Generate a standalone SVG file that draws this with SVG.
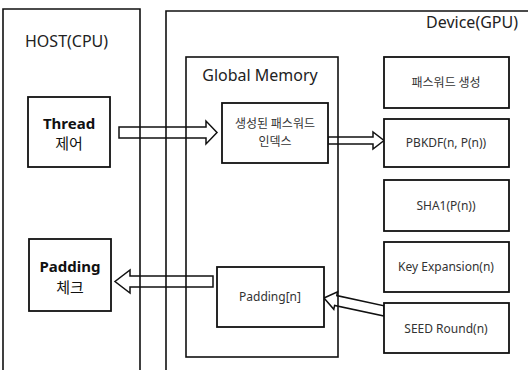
<svg xmlns="http://www.w3.org/2000/svg" width="528" height="370" viewBox="0 0 528 370">
  <style>
    .frame { fill: none; stroke: #111; stroke-width: 1.6; }
    .box { fill: #fff; stroke: #111; stroke-width: 1.8; }
    .arrow { fill: none; stroke: #111; stroke-width: 1.5; stroke-linejoin: miter; }
    .title { font-family: "Noto Sans", "Open Sans", sans-serif; font-size: 16px; fill: #222; }
    .lbl { font-family: "Noto Sans", "Noto Sans CJK KR", sans-serif; font-size: 12px; fill: #333; text-anchor: middle; }
    .kr { font-family: "Noto Sans CJK KR", sans-serif; font-size: 12px; fill: #333; text-anchor: middle; }
    .bold { font-family: "Noto Sans", "Noto Sans CJK KR", sans-serif; font-size: 15px; font-weight: bold; fill: #111; text-anchor: middle; }
    .krb { font-family: "Noto Sans CJK KR", sans-serif; font-size: 15px; fill: #111; text-anchor: middle; }
  </style>
  <rect width="528" height="370" fill="#fff"/>

  <g id="host">
    <path class="frame" d="M3,370 V9 H140 V370"/>
    <text class="title" x="25" y="47">HOST(CPU)</text>
  </g>
  <g id="device">
    <path class="frame" d="M166,370 V11 H528"/>
    <text class="title" x="518" y="28" text-anchor="end">Device(GPU)</text>
  </g>
  <g id="global-memory">
    <rect class="frame" x="186" y="57" width="152" height="300"/>
    <text class="title" x="260" y="81" text-anchor="middle">Global Memory</text>
  </g>

  <g id="connectors">
    <polygon class="arrow" points="119,127 206,127 206,121 217,132.5 206,144 206,138 119,138"/>
    <polygon class="arrow" points="328,137 373,137 373,132 384,140.5 373,149 373,144 328,144"/>
    <polygon class="arrow" points="213,276 130,276 130,270 115,281.5 130,293 130,287 213,287"/>
    <polygon class="arrow" points="324,298 337.6,291.7 336.8,295.6 384,305.8 384,316.1 334.6,305.4 333.8,309.3"/>
  </g>

  <g id="thread">
    <rect class="box" x="28" y="97" width="82" height="70"/>
    <text class="bold" x="69" y="129">Thread</text>
    <text class="krb" x="69" y="149">제어</text>
  </g>
  <g id="padding-check">
    <rect class="box" x="29" y="239" width="82" height="72"/>
    <text class="bold" x="70" y="272">Padding</text>
    <text class="krb" x="70" y="293">체크</text>
  </g>
  <g id="index">
    <rect class="box" x="222" y="103" width="106" height="60"/>
    <text class="kr" x="275" y="128">생성된 패스워드</text>
    <text class="kr" x="275" y="146">인덱스</text>
  </g>
  <g id="padding-n">
    <rect class="box" x="217" y="267" width="107" height="60"/>
    <text class="lbl" x="270" y="301">Padding[n]</text>
  </g>
  <g id="pw-gen">
    <rect class="box" x="384" y="57" width="125" height="51"/>
    <text class="kr" x="446" y="87">패스워드 생성</text>
  </g>
  <g id="pbkdf">
    <rect class="box" x="384" y="119" width="125" height="48"/>
    <text class="lbl" x="446" y="147">PBKDF(n, P(n))</text>
  </g>
  <g id="sha1">
    <rect class="box" x="384" y="180" width="125" height="51"/>
    <text class="lbl" x="446" y="210">SHA1(P(n))</text>
  </g>
  <g id="key-expansion">
    <rect class="box" x="384" y="242" width="125" height="50"/>
    <text class="lbl" x="446" y="271">Key Expansion(n)</text>
  </g>
  <g id="seed-round">
    <rect class="box" x="384" y="303" width="125" height="50"/>
    <text class="lbl" x="446" y="333">SEED Round(n)</text>
  </g>
</svg>
